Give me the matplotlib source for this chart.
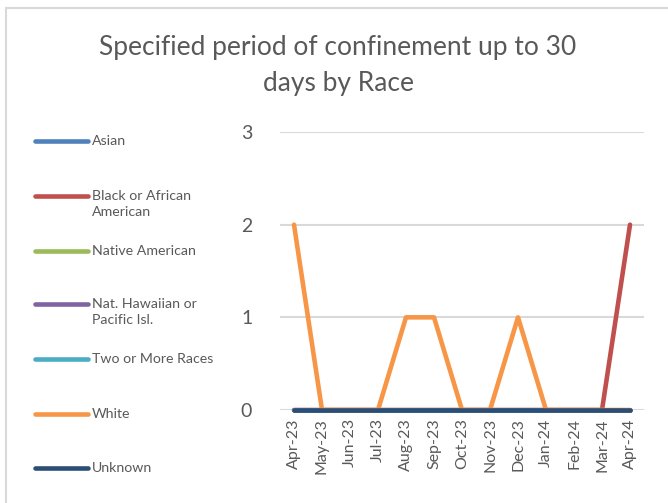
import matplotlib.pyplot as plt
from matplotlib.lines import Line2D
from matplotlib.patches import Rectangle

plt.rcParams['font.family'] = ['Lato', 'DejaVu Sans']

months = ['Apr-23', 'May-23', 'Jun-23', 'Jul-23', 'Aug-23', 'Sep-23', 'Oct-23',
          'Nov-23', 'Dec-23', 'Jan-24', 'Feb-24', 'Mar-24', 'Apr-24']
asian = [0, 0, 0, 0, 0, 0, 0, 0, 0, 0, 0, 0, 0]
black = [0, 0, 0, 0, 0, 0, 0, 0, 0, 0, 0, 0, 2]
native = [0, 0, 0, 0, 0, 0, 0, 0, 0, 0, 0, 0, 0]
hawaiian = [0, 0, 0, 0, 0, 0, 0, 0, 0, 0, 0, 0, 0]
two_more = [0, 0, 0, 0, 0, 0, 0, 0, 0, 0, 0, 0, 0]
white = [2, 0, 0, 0, 1, 1, 0, 0, 1, 0, 0, 0, 0]
unknown = [0, 0, 0, 0, 0, 0, 0, 0, 0, 0, 0, 0, 0]

series = [
    ('Asian', asian, '#4F81BD'),
    ('Black or African\nAmerican', black, '#C0504D'),
    ('Native American', native, '#9BBB59'),
    ('Nat. Hawaiian or\nPacific Isl.', hawaiian, '#8064A2'),
    ('Two or More Races', two_more, '#4BACC6'),
    ('White', white, '#F79646'),
    ('Unknown', unknown, '#2C4D75'),
]

txt = '#595959'
fig = plt.figure(figsize=(6.68, 5.03), dpi=100)
W, H = 668, 503

# chart border (left and top edges visible)
fig.patches.append(Rectangle((6 / W, -0.1), 1.2, 1 - 8 / H + 0.1, transform=fig.transFigure,
                             fill=False, edgecolor='#D9D9D9', linewidth=1.5))

ax = fig.add_axes([280 / W, 1 - 410 / H, 364 / W, 278 / H])
x = list(range(len(months)))
for label, vals, col in series:
    ax.plot(x, vals, color=col, linewidth=3.3, solid_capstyle='round',
            solid_joinstyle='round', clip_on=False, zorder=3)

ax.set_xlim(-0.5, len(months) - 0.5)
ax.set_ylim(0, 3)
ax.set_yticks([0, 1, 2, 3])
ax.set_xticks(x)
ax.set_xticklabels(months, rotation=90, fontsize=11.5, color=txt)
ax.tick_params(axis='y', labelsize=14, colors=txt, length=0, pad=20)
ax.tick_params(axis='x', length=0, pad=6)
ax.grid(axis='y', color='#D9D9D9', linewidth=1.5)
ax.set_axisbelow(True)
for s in ax.spines.values():
    s.set_visible(False)

fig.text(338 / W, 1 - 48 / H, 'Specified period of confinement up to 30', ha='center',
         va='center', fontsize=19, color=txt)
fig.text(338 / W, 1 - 84 / H, 'days by Race', ha='center', va='center',
         fontsize=19, color=txt)

# legend down the left side
legend_y = [141, 196, 251, 304, 359, 414, 468]
for (label, vals, col), yy in zip(series, legend_y):
    fig.add_artist(Line2D([35 / W, 88 / W], [1 - yy / H, 1 - yy / H], color=col,
                          linewidth=3.3, solid_capstyle='round', transform=fig.transFigure))
    fig.text(92 / W, 1 - (yy - 6) / H, label, ha='left', va='top', fontsize=10.2,
             color=txt, linespacing=1.45)

fig.savefig('out.png', dpi=100)
